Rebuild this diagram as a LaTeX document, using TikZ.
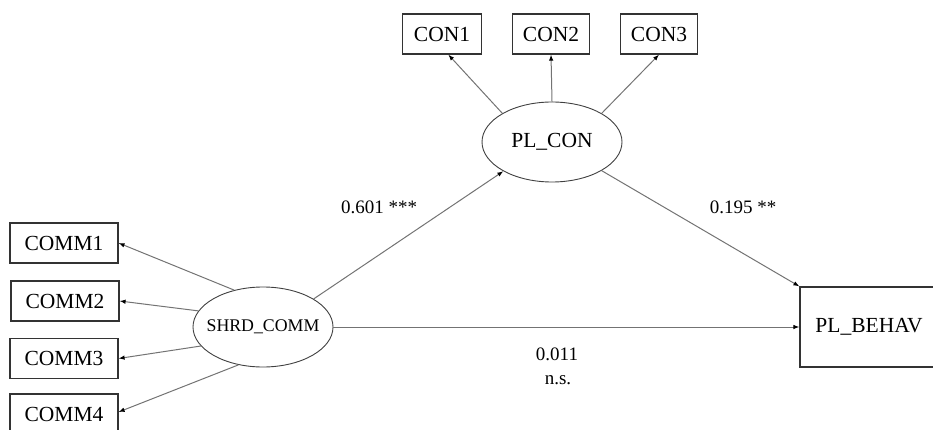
\documentclass[tikz,border=0pt]{standalone}
\usepackage{fontspec}
\setmainfont{Liberation Serif}
\usetikzlibrary{arrows.meta,shapes.geometric}
\begin{document}
\begin{tikzpicture}[x=1pt,y=-1pt,
  obsbox/.style={draw=black!80,line width=1.2pt,rectangle,inner sep=0pt,
    minimum height=40pt,font=\fontsize{21.5}{24}\selectfont},
  latent/.style={draw=black!75,line width=0.9pt,ellipse,inner sep=0pt,
    minimum width=140pt,minimum height=80pt},
  path/.style={draw=black!55,line width=1pt,
    -{Latex[length=6pt,width=4.5pt,color=black]}},
  coef/.style={inner sep=0pt,font=\fontsize{19}{22}\selectfont}]
\useasboundingbox (0,0) rectangle (933,430);
\clip (0,0) rectangle (933,430);

% observed indicators
\node[obsbox,minimum width=79pt] (con1) at (442,34) {CON1};
\node[obsbox,minimum width=77pt] (con2) at (551,34) {CON2};
\node[obsbox,minimum width=77pt] (con3) at (659,34) {CON3};
\node[obsbox,minimum width=108pt] (comm1) at (64,243) {COMM1};
\node[obsbox,minimum width=108pt] (comm2) at (65,301) {COMM2};
\node[obsbox,minimum width=108pt] (comm3) at (64,358.5) {COMM3};
\node[obsbox,minimum width=108pt] (comm4) at (64,414) {COMM4};
\node[obsbox,minimum width=138pt,minimum height=80pt] (plbehav) at (869,327) {PL\_BEHAV};

% latent constructs
\node[latent,font=\fontsize{21.5}{24}\selectfont] (plcon) at (552,142) {PL\_CON};
\node[latent,inner xsep=-7.5pt,font=\fontsize{17.8}{20}\selectfont] (shrd) at (263,327) {SHRD\_COMM};

% loadings
\draw[path] (plcon.150) -- (con1.-73);
\draw[path] (plcon.90) -- (con2.south);
\draw[path] (plcon.30) -- (con3.south);
\draw[path] (shrd.128) -- (comm1.east);
\draw[path] (shrd.166) -- (comm2.east);
\draw[path] (shrd.197) -- (comm3.east);
\draw[path] (shrd.237) -- ([yshift=2pt]comm4.east);

% structural paths
\draw[path] (shrd.29) -- (plcon.211);
\draw[path] (plcon.330) -- (plbehav.north west);
\draw[path] (shrd.0) -- (plbehav.west);

% coefficients
\node[coef] (c1) at (379,207) {0.601 ***};
\node[coef] (c2) at (743,207) {0.195 **};
\node[coef] (c3) at (557,354) {0.011};
\node[coef] (c4) at (558,380) {n.s.};
\end{tikzpicture}
\end{document}
